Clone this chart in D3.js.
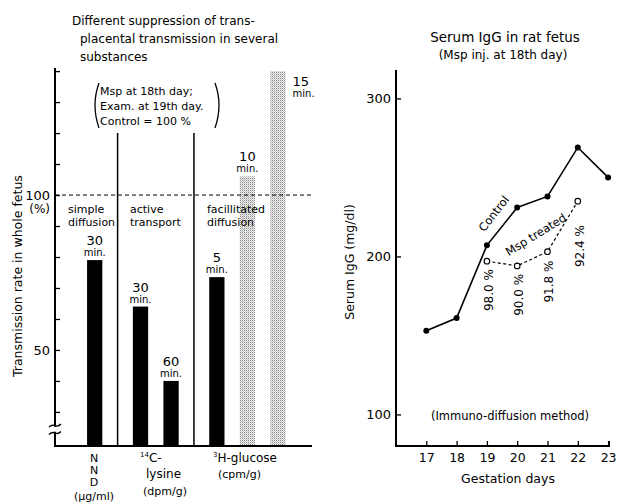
<!DOCTYPE html>
<html>
<head>
<meta charset="utf-8">
<script src="https://cdn.jsdelivr.net/npm/d3@7"></script>
<style>
  body { margin: 0; background: #fff; }
  svg { display: block; font-family: "DejaVu Sans", sans-serif; }
  .axis path, .axis line { stroke: #000; }
  .axis text { fill: #000; font-family: "DejaVu Sans", sans-serif; }
</style>
</head>
<body>
<div id="chart"></div>
<script>
// ---- left panel: transmission rate (control = 100 %) ----
const groupNames = [["simple", "diffusion"], ["active", "transport"], ["facillitated", "diffusion"]];
const barGroup = [0, 1, 1, 2, 2, 2];
const barMinutes = [30, 30, 60, 5, 10, 15];
const barRate = [79, 64, 40, 73.5, 106, 140];
const barStippled = [false, false, false, false, true, true];
const rateLabelTicks = [50, 100];
const rateMinorTicks = [30, 40, 50, 60, 70, 80, 90, 100, 110, 120, 130, 140];

// ---- right panel: serum IgG ----
const days = [17, 18, 19, 20, 21, 22, 23];
const controlIgG = [153, 161, 207, 231, 238, 269, 250];
const treatedDays = [19, 20, 21, 22];
const treatedIgG = [197, 194, 203, 235];
const treatedPct = ["98.0 %", "90.0 %", "91.8 %", "92.4 %"];
const igTicks = [100, 200, 300];

const W = 620, H = 503;
const svg = d3.select("#chart").append("svg")
    .attr("width", W).attr("height", H);

// stipple for the lighter bars
const pat = svg.append("defs").append("pattern")
    .attr("id", "dots").attr("patternUnits", "userSpaceOnUse")
    .attr("width", 2).attr("height", 2);
pat.append("rect").attr("width", 2).attr("height", 2).attr("fill", "#eee");
pat.append("rect").attr("x", 0).attr("y", 0).attr("width", 1).attr("height", 1).attr("fill", "#8a8a8a");
pat.append("rect").attr("x", 1).attr("y", 1).attr("width", 1).attr("height", 1).attr("fill", "#c8c8c8");

// ================= LEFT =================
const L = svg.append("g");
const xL = d3.scaleLinear().domain([0, 16.7]).range([55, 310]);
const yL = d3.scaleLinear().domain([19, 141]).range([446, 68]);

// where each group starts, in slot units, and bar index inside group
const groupStart = [2.6, 5.6, 10.6];
const idxInGroup = barGroup.map((g, i) => barGroup.slice(0, i).filter(v => v === g).length);
const slot = i => groupStart[barGroup[i]] + 2 * idxInGroup[i];
const bw = xL(1) - xL(0);

// title
const title = ["Different suppression of trans-", "placental transmission in several", "substances"];
L.append("text").attr("font-size", 12).attr("fill", "#000")
  .selectAll("tspan").data(title).join("tspan")
    .attr("x", (d, i) => i === 0 ? 72 : 80)
    .attr("y", (d, i) => 25 + i * 18)
    .text(d => d);

// bars
L.selectAll("rect.bar").data(barRate).join("rect")
    .attr("class", "bar")
    .attr("x", (d, i) => xL(slot(i)) - bw / 2)
    .attr("width", bw)
    .attr("y", d => yL(d))
    .attr("height", d => yL(19) - yL(d))
    .attr("fill", (d, i) => barStippled[i] ? "url(#dots)" : "#000");

// minute labels
barRate.forEach((v, i) => {
  const last = i === barRate.length - 1;
  const cx = last ? xL(slot(i)) + bw / 2 + 7 : xL(slot(i));
  const by = last ? 86 : yL(v) - 15;
  const anchor = last ? "start" : "middle";
  L.append("text").attr("x", cx).attr("y", by).attr("text-anchor", anchor)
    .attr("font-size", 13).text(barMinutes[i]);
  L.append("text").attr("x", cx).attr("y", by + 11).attr("text-anchor", anchor)
    .attr("font-size", 10).text("min.");
});

// dashed control line
L.append("line")
    .attr("x1", xL(0)).attr("x2", 312)
    .attr("y1", yL(100)).attr("y2", yL(100))
    .attr("stroke", "#000").attr("stroke-width", 1)
    .attr("stroke-dasharray", "4,3");

// group separators
[1, 2].forEach(g => {
  L.append("line")
    .attr("x1", xL(groupStart[g] - 1.5)).attr("x2", xL(groupStart[g] - 1.5))
    .attr("y1", yL(120)).attr("y2", yL(19))
    .attr("stroke", "#000").attr("stroke-width", 1.5);
});

// group names
const groupX = [68, 130, 207];
groupNames.forEach((lines, g) => {
  L.append("text").attr("font-size", 11)
    .selectAll("tspan").data(lines).join("tspan")
      .attr("x", groupX[g])
      .attr("y", (d, i) => 213 + i * 13)
      .text(d => d);
});

// y axis
const axL = d3.axisLeft(yL).tickValues(rateMinorTicks)
    .tickSize(-5).tickSizeOuter(0).tickPadding(5)
    .tickFormat(d => rateLabelTicks.includes(d) ? d : "");
const gAxL = L.append("g").attr("class", "axis").attr("transform", "translate(55,0)").call(axL);
gAxL.select(".domain").remove();
gAxL.selectAll("line").attr("stroke-width", 1.3);
gAxL.selectAll("text").attr("font-size", 13);
gAxL.append("text").attr("x", -5).attr("y", yL(100) + 18)
    .attr("text-anchor", "end").attr("font-size", 12).text("(%)");

// axis line with break
L.append("path")
    .attr("d", `M55,${yL(141)}V${yL(25.2)}M55,${yL(23.6)}V${yL(19)}H312`)
    .attr("fill", "none").attr("stroke", "#000").attr("stroke-width", 2);
[25.6, 23.2].forEach(v => {
  L.append("path")
    .attr("d", `M49,${yL(v) + 1.5}q3,-3 6,-1.5t6,-1.5`)
    .attr("fill", "none").attr("stroke", "#000").attr("stroke-width", 1.3);
});

// y title
L.append("text")
    .attr("transform", "translate(22,377) rotate(-90)")
    .attr("font-size", 12.5).text("Transmission rate in whole fetus");

// note with big parentheses
const note = ["Msp at 18th day;", "Exam. at 19th day.", "Control = 100 %"];
L.append("text").attr("font-size", 11)
  .selectAll("tspan").data(note).join("tspan")
    .attr("x", 100).attr("y", (d, i) => 95 + i * 15).text(d => d);
L.append("path").attr("d", "M99,83Q91,105 99,128").attr("fill", "none").attr("stroke", "#000").attr("stroke-width", 1.3);
L.append("path").attr("d", "M215,83Q223,105 215,128").attr("fill", "none").attr("stroke", "#000").attr("stroke-width", 1.3);

// substance labels
const sub = L.append("g").attr("font-size", 12);
["N", "N", "D"].forEach((t, i) => {
  sub.append("text").attr("x", 94).attr("y", 462 + i * 12).attr("text-anchor", "middle")
    .attr("font-size", 11).text(t);
});
sub.append("text").attr("x", 94).attr("y", 500).attr("text-anchor", "middle").attr("font-size", 11).text("(\u03bcg/ml)");
const c14 = sub.append("text").attr("x", 140).attr("y", 462);
c14.append("tspan").attr("font-size", 7).attr("dy", -5).text("14");
c14.append("tspan").attr("dy", 5).text("C-");
sub.append("text").attr("x", 146).attr("y", 478).text("lysine");
sub.append("text").attr("x", 143).attr("y", 495).attr("font-size", 11).text("(dpm/g)");
const h3 = sub.append("text").attr("x", 213).attr("y", 462);
h3.append("tspan").attr("font-size", 7).attr("dy", -5).text("3");
h3.append("tspan").attr("dy", 5).text("H-glucose");
sub.append("text").attr("x", 218).attr("y", 478).attr("font-size", 11).text("(cpm/g)");

// ================= RIGHT =================
const R = svg.append("g");
const xR = d3.scaleLinear().domain([16, 23.03]).range([396, 609]);
const yR = d3.scaleLinear().domain([80, 318]).range([446, 70]);

R.append("text").attr("x", 505).attr("y", 42).attr("text-anchor", "middle")
    .attr("font-size", 13.5).text("Serum IgG in rat fetus");
R.append("text").attr("x", 503).attr("y", 59).attr("text-anchor", "middle")
    .attr("font-size", 12).text("(Msp inj. at 18th day)");

const axY = d3.axisLeft(yR).tickValues(igTicks).tickSize(-5).tickSizeOuter(0).tickPadding(5);
const gY = R.append("g").attr("class", "axis").attr("transform", "translate(396,0)").call(axY);
gY.select(".domain").remove();
gY.selectAll("text").attr("font-size", 13);
gY.selectAll("line").attr("stroke-width", 1.3);

const axX = d3.axisBottom(xR).tickValues(days).tickFormat(d3.format("d"))
    .tickSize(-5).tickSizeOuter(0).tickPadding(7);
const gX = R.append("g").attr("class", "axis").attr("transform", "translate(0,446)").call(axX);
gX.select(".domain").remove();
gX.selectAll("text").attr("font-size", 12.5);
gX.selectAll("line").attr("stroke-width", 1.3);

R.append("path").attr("d", `M396,${yR(318)}V446H${xR(23.03)}V441`)
    .attr("fill", "none").attr("stroke", "#000").attr("stroke-width", 2);

R.append("text").attr("x", 508).attr("y", 483).attr("text-anchor", "middle")
    .attr("font-size", 12.5).text("Gestation days");
R.append("text").attr("transform", "translate(354,262) rotate(-90)")
    .attr("text-anchor", "middle").attr("font-size", 12.5).text("Serum IgG (mg/dl)");
R.append("text").attr("x", 510).attr("y", 420).attr("text-anchor", "middle")
    .attr("font-size", 11.5).text("(Immuno-diffusion method)");

// control line
const ctrl = days.map((d, i) => [d, controlIgG[i]]);
const trt = treatedDays.map((d, i) => [d, treatedIgG[i]]);
const line = d3.line().x(d => xR(d[0])).y(d => yR(d[1]));
R.append("path").datum(ctrl).attr("d", line)
    .attr("fill", "none").attr("stroke", "#000").attr("stroke-width", 1.6);
R.append("path").datum(trt).attr("d", line)
    .attr("fill", "none").attr("stroke", "#000").attr("stroke-width", 1.2)
    .attr("stroke-dasharray", "3,2.5");
R.selectAll("circle.c").data(ctrl).join("circle").attr("class", "c")
    .attr("cx", d => xR(d[0])).attr("cy", d => yR(d[1])).attr("r", 3).attr("fill", "#000");
R.selectAll("circle.t").data(trt).join("circle").attr("class", "t")
    .attr("cx", d => xR(d[0])).attr("cy", d => yR(d[1])).attr("r", 2.8)
    .attr("fill", "#fff").attr("stroke", "#000").attr("stroke-width", 1.1);

// percent labels below treated points
const pctGap = [8, 8, 9, 24];
trt.forEach((d, i) => {
  R.append("text")
    .attr("transform", `translate(${xR(d[0]) + 6},${yR(d[1]) + pctGap[i]}) rotate(-90)`)
    .attr("text-anchor", "end").attr("font-size", 12).text(treatedPct[i]);
});

// series names along the lines
R.append("text").attr("transform", "translate(497,216) rotate(-52)")
    .attr("text-anchor", "middle").attr("font-size", 11.5).text("Control");
R.append("text").attr("transform", "translate(538,238) rotate(-32)")
    .attr("text-anchor", "middle").attr("font-size", 11.5).text("Msp treated");
</script>
</body>
</html>
